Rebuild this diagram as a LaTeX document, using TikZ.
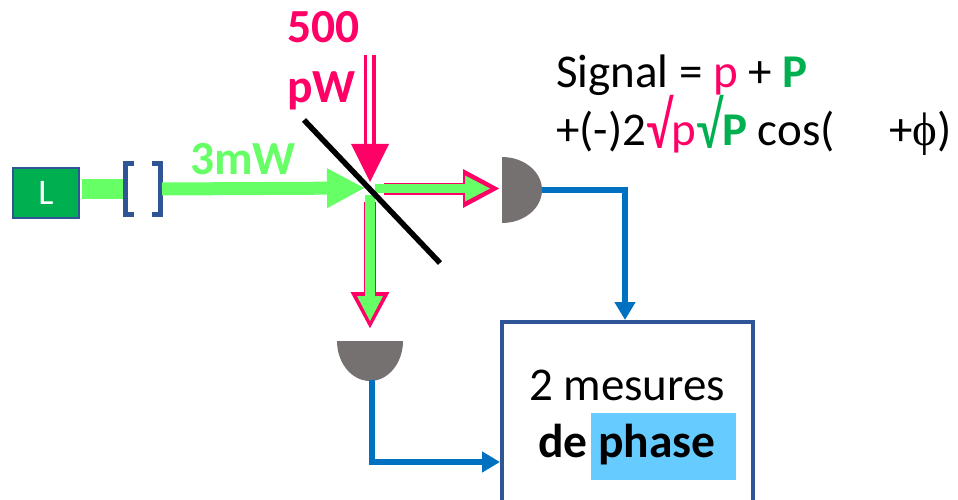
\documentclass[tikz,border=0pt]{standalone}
\usepackage{fontspec}
\setmainfont{Carlito}
\newfontfamily\phifont{Liberation Serif}
\usetikzlibrary{arrows.meta}
\definecolor{rosa}{HTML}{FF0066}
\definecolor{vertc}{HTML}{66FF66}
\definecolor{vertf}{HTML}{00B050}
\definecolor{bleub}{HTML}{2F5597}
\definecolor{bleuf}{HTML}{0070C0}
\definecolor{ciel}{HTML}{66CCFF}
\definecolor{gris}{HTML}{767171}
\newcommand{\bigroot}{\raisebox{-3pt}{\scalebox{0.78}[1]{\fontsize{66}{66}\selectfont\mdseries √}}}
\tikzset{
  txt/.style={inner sep=0pt,outer sep=0pt,anchor=base west,font=\fontsize{47}{47}\selectfont},
  btxt/.style={txt,font=\fontsize{47.5}{47.5}\selectfont\bfseries},
  wire/.style={bleuf,line width=5.5pt,-{Triangle[length=18pt,width=20pt]}},
  rosearrow/.style={rosa,line width=12pt,-{Triangle[length=37pt,width=36pt]}},
  det/.style={fill=gris,draw=none},
}
\begin{document}
\begin{tikzpicture}[x=1pt,y=-1pt]
\useasboundingbox (0,0) rectangle (958,500);
\clip (0,0) rectangle (958,500);
% coordinates
\coordinate (lasE) at (82,189);
\coordinate (bl) at (123,189);
\coordinate (br) at (162,189);
\coordinate (gTip) at (365,188);
\coordinate (pTopA) at (365.5,55);
\coordinate (pTopB) at (374,55);
\coordinate (pStartA) at (365.5,146);
\coordinate (pStartB) at (374,146);
\coordinate (pTip) at (370,182);
\coordinate (rS) at (384,188.5);
\coordinate (rG) at (375,188.5);
\coordinate (rT) at (500,188.5);
\coordinate (rTi) at (490,188.5);
\coordinate (dS) at (370,202);
\coordinate (dG) at (370,195);
\coordinate (dT) at (370,329);
\coordinate (dTi) at (370,321);
\coordinate (mA) at (304,120);
\coordinate (mB) at (440,263);
\coordinate (detRw) at (542,190);
\coordinate (detLw) at (372,380);
\coordinate (corR) at (625,190);
\coordinate (corL) at (372,462);
% box
\node[draw=bleub,line width=4.5pt,minimum width=251pt,minimum height=210pt,inner sep=0pt,fill=white] (box) at (627.5,427) {};
\coordinate (boxT) at (625,320);
\coordinate (boxL) at (500,462);
% laser
\draw[vertc,line width=20pt] (lasE) -- (bl);
\node[draw=bleub,fill=vertf,line width=2.5pt,minimum width=66pt,minimum height=50pt,inner sep=0pt,text=white,font=\fontsize{36}{36}\selectfont] (L) at (46,193) {L};
% brackets
\draw[bleub,line width=5pt] (134,163) -| (125.5,214) -- (134,214);
\draw[bleub,line width=5pt] (152,163) -| (160,214) -- (152,214);
% green main arrow
\draw[vertc,line width=13pt,-{Triangle[length=38pt,width=37pt]}] (br) -- (gTip);
% pink down
\draw[rosa,line width=3.5pt] (pTopA) -- (pStartA);
\draw[rosa,line width=3.5pt] (pTopB) -- (pStartB);
\fill[rosa] (351,144) -- (389,144) -- (pTip) -- cycle;
% right outgoing
\draw[rosearrow] (rS) -- (rT);
\draw[vertc,line width=9.5pt] (rG) -- (470,188.5);
\fill[vertc] (465,175.5) -- (465,201.5) -- (rTi) -- cycle;
% down outgoing
\draw[rosearrow] (dS) -- (dT);
\draw[vertc,line width=9.5pt] (dG) -- (370,300);
\fill[vertc] (357,296) -- (383,296) -- (dTi) -- cycle;
% mirror
\draw[black,line width=5.5pt] (mA) -- (mB);
% detectors
\fill[det] (502,157) arc[start angle=-90,end angle=90,x radius=40,y radius=33] -- cycle;
\fill[det] (337,341) arc[start angle=180,end angle=0,x radius=33,y radius=40] -- cycle;
% wires
\draw[wire] (detRw) -- (corR) -- (boxT);
\draw[wire] (detLw) -- (corL) -- (boxL);
% texts
\fill[ciel] (591,413) rectangle (736,480);
\node[txt] (t1) at (529,400) {2 mesures};
\node[btxt] (t2) at (538,457) {de};
\node[btxt] (t3) at (598,457) {phase};
\node[btxt,text=rosa] (p1) at (287,43) {500};
\node[btxt,text=rosa] (p2) at (287,103) {pW};
\node[btxt,text=vertc] (g1) at (190,175) {3mW};
\node[txt] (s1) at (556,88) {Signal = \textcolor{rosa}{p} + \textcolor{vertf}{\bfseries P}};
\node[txt] (s2) at (556,146) {+(-)2\textcolor{rosa}{\bigroot p}\textcolor{vertf}{\bigroot\bfseries P} cos(};
\node[txt] (s3) at (889,146) {+{\phifont ϕ})};
\end{tikzpicture}
\end{document}
